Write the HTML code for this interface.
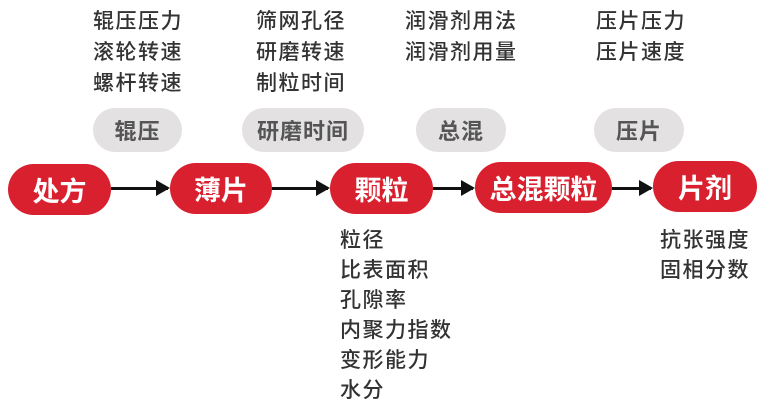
<!DOCTYPE html>
<html><head><meta charset="utf-8"><style>
body{margin:0;width:764px;height:414px;background:#fff;position:relative;overflow:hidden;font-family:"Liberation Sans","Noto Sans CJK SC",sans-serif}
.t{position:absolute;font-size:21px;line-height:31px;color:#333;font-weight:500;letter-spacing:1.5px}
.g{position:absolute;background:#e3e1e1;color:#555;border-radius:23px;height:44px;top:108px;display:flex;align-items:center;justify-content:center;font-size:22px;font-weight:700;letter-spacing:1px}
.r{position:absolute;background:#d9202f;color:#fff;border-radius:26px;height:51px;display:flex;align-items:center;justify-content:center;font-size:27px;font-weight:700}
.a{position:absolute;height:3px;background:#111;top:187px}
.a:after{content:"";position:absolute;right:-2px;top:-7px;border-left:14px solid #111;border-top:8px solid transparent;border-bottom:8px solid transparent}
</style></head><body>
<div class="t" style="left:93px;top:6px">辊压压力<br>滚轮转速<br>螺杆转速</div>
<div class="t" style="left:256px;top:6px">筛网孔径<br>研磨转速<br>制粒时间</div>
<div class="t" style="left:405px;top:6px">润滑剂用法<br>润滑剂用量</div>
<div class="t" style="left:596px;top:6px">压片压力<br>压片速度</div>
<div class="g" style="left:93px;width:89px">辊压</div>
<div class="g" style="left:242px;width:122px">研磨时间</div>
<div class="g" style="left:416px;width:90px">总混</div>
<div class="g" style="left:594px;width:90px">压片</div>
<div class="r" style="left:8px;top:164px;width:103px">处方</div>
<div class="r" style="left:170px;top:163px;width:102px">薄片</div>
<div class="r" style="left:330px;top:163px;width:103px">颗粒</div>
<div class="r" style="left:475px;top:162px;width:137px">总混颗粒</div>
<div class="r" style="left:653px;top:161px;width:104px">片剂</div>
<div class="a" style="left:111px;width:57px"></div>
<div class="a" style="left:272px;width:56px"></div>
<div class="a" style="left:433px;width:40px"></div>
<div class="a" style="left:612px;width:39px"></div>
<div class="t" style="left:340px;top:226px;line-height:30px">粒径<br>比表面积<br>孔隙率<br>内聚力指数<br>变形能力<br>水分</div>
<div class="t" style="left:660px;top:226px;line-height:30px">抗张强度<br>固相分数</div>
</body></html>
